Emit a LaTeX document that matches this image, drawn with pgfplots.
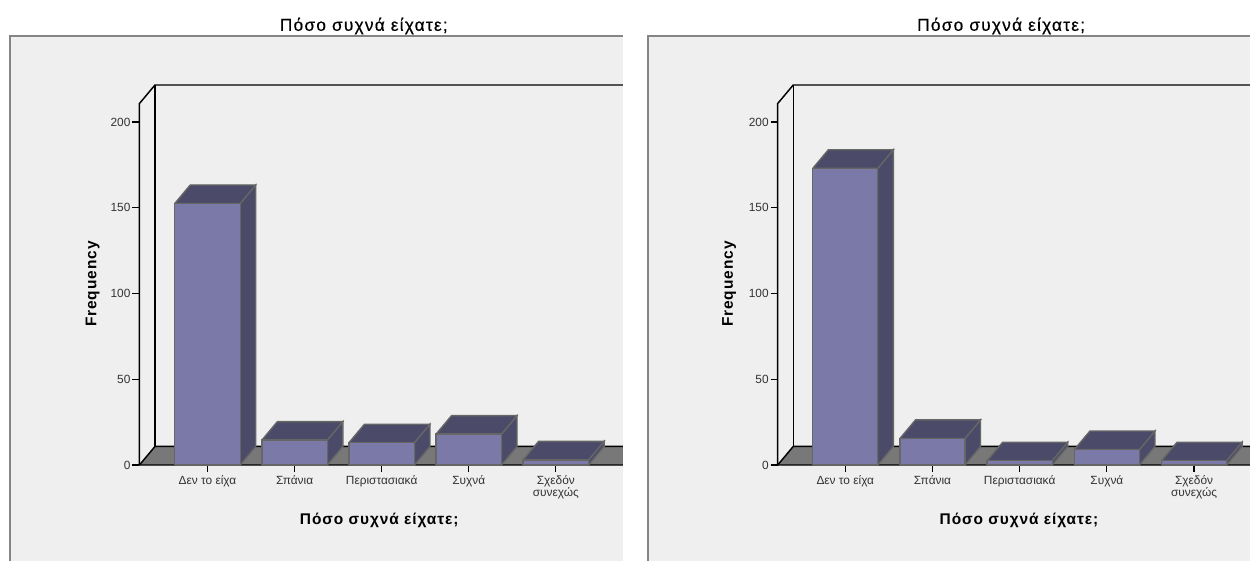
\documentclass[border=0pt]{standalone}
\usepackage{fontspec}
\usepackage{pgfplots}
\pgfplotsset{compat=1.18}
\setmainfont{Liberation Sans}
\newfontfamily\titlefont[LetterSpace=7,FakeBold=0.5]{Liberation Sans}
\newfontfamily\labelfont[LetterSpace=6]{Liberation Sans}
\definecolor{panel}{HTML}{EFEFEF}
\definecolor{frontface}{HTML}{7A79A7}
\definecolor{depthface}{HTML}{4B4B69}
\definecolor{edgecol}{HTML}{666666}
\definecolor{floorcol}{HTML}{787878}
\definecolor{inkcol}{HTML}{333333}

% depth of the 3D effect in y units (x depth and half bar width are set per axis)
\def\depthy{10.8}
\newcommand{\cube}[2]{%
  \pgfmathsetmacro\xl{#1-\halfw}\pgfmathsetmacro\xr{#1+\halfw}%
  \pgfmathsetmacro\xlb{\xl+\depthx}\pgfmathsetmacro\xrb{\xr+\depthx}%
  \pgfmathsetmacro\yt{#2+\depthy}%
  \addplot[fill=depthface,draw=edgecol,line width=1pt] coordinates {(\xr,0) (\xrb,\depthy) (\xrb,\yt) (\xr,#2) (\xr,0)};
  \addplot[fill=depthface,draw=edgecol,line width=1pt] coordinates {(\xl,#2) (\xlb,\yt) (\xrb,\yt) (\xr,#2) (\xl,#2)};
  \addplot[fill=frontface,draw=edgecol,line width=1pt] coordinates {(\xl,0) (\xl,#2) (\xr,#2) (\xr,0) (\xl,0)};
}
% floor and wall outlines of the 3D frame
\newcommand{\scene}[2]{%
  \pgfmathsetmacro\xb{#1+\depthx}%
  \addplot[fill=floorcol,draw=none] coordinates {(#1,0) (#2,0) (#2,\depthy) (\xb,\depthy) (#1,0)};
  \addplot[black,line width=1.1pt] coordinates {(#2,0) (#1,0) (#1,210.8) (\xb,221.6) (#2,221.6)};
  \addplot[black,line width=1.1pt] coordinates {(#1,0) (\xb,\depthy) (#2,\depthy)};
  \addplot[black,line width=1.1pt] coordinates {(\xb,\depthy) (\xb,221.6)};
}
\pgfplotsset{panelaxis/.style={
  scale only axis, anchor=south west, clip=false,
  ymin=0, ymax=221.6,
  axis x line*=bottom, axis y line*=left,
  axis line style={draw=none},
  tick align=outside, major tick length=5.25pt,
  tick style={black,line width=.9pt},
  xtick={0,1,2,3,4}, ytick={0,50,100,150,200},
  xticklabels={Δεν το είχα,Σπάνια,Περιστασιακά,Συχνά,{Σχεδόν\\συνεχώς}},
  xticklabel style={align=center,font=\fontsize{8.9}{9.2}\selectfont,text=inkcol,yshift=.7pt},
  yticklabel style={font=\fontsize{8.9}{9}\selectfont,text=inkcol,xshift=2pt},
  /pgf/number format/assume math mode=true,
  title style={font=\titlefont\fontsize{13}{15}\selectfont,anchor=center},
  xlabel style={font=\labelfont\bfseries\fontsize{11.6}{13}\selectfont,anchor=center},
  ylabel style={font=\labelfont\bfseries\fontsize{11.6}{13}\selectfont,anchor=center},
  title={Πόσο συχνά είχατε;},
  xlabel={Πόσο συχνά είχατε;},
  ylabel={Frequency},
}}

\begin{document}
\begin{tikzpicture}[x=0.75pt,y=0.75pt]
\path[use as bounding box,fill=white] (0,0) rectangle (1250,561);
% left and right chart panels, cut off at the page bottom and at their right side
\fill[panel] (10,0) rectangle (623,525);
\draw[edgecol!80!white,line width=1pt] (10,0) -- (10,525) -- (623,525);
\fill[panel] (648,0) rectangle (1250,525);
\draw[edgecol!80!white,line width=1pt] (648,0) -- (648,525) -- (1250,525);

\begin{axis}[panelaxis,at={(104.6pt,72pt)},width=362.6pt,height=285pt,
  xmin=-0.781,xmax=4.77,
  title style={at={(axis description cs:.464,1.134)}},
  xlabel style={at={(axis description cs:.496,-.147)}},
  ylabel style={at={(axis description cs:-.097,.476)}}]
\def\depthx{0.178}\def\halfw{0.376}
\scene{-0.781}{4.77}
\cube{0}{152.5}
\cube{1}{14.5}
\cube{2}{13}
\cube{3}{18}
\cube{4}{3}
\end{axis}

\begin{axis}[panelaxis,at={(583.28pt,72pt)},width=354.2pt,height=285pt,
  xmin=-0.775,xmax=4.641,
  title style={at={(axis description cs:.473,1.134)}},
  xlabel style={at={(axis description cs:.511,-.147)}},
  ylabel style={at={(axis description cs:-.103,.476)}}]
\def\depthx{0.178}\def\halfw{0.373}
\scene{-0.775}{4.641}
\cube{0}{173}
\cube{1}{15.5}
\cube{2}{2.5}
\cube{3}{9}
\cube{4}{2.5}
\end{axis}
\end{tikzpicture}
\end{document}
